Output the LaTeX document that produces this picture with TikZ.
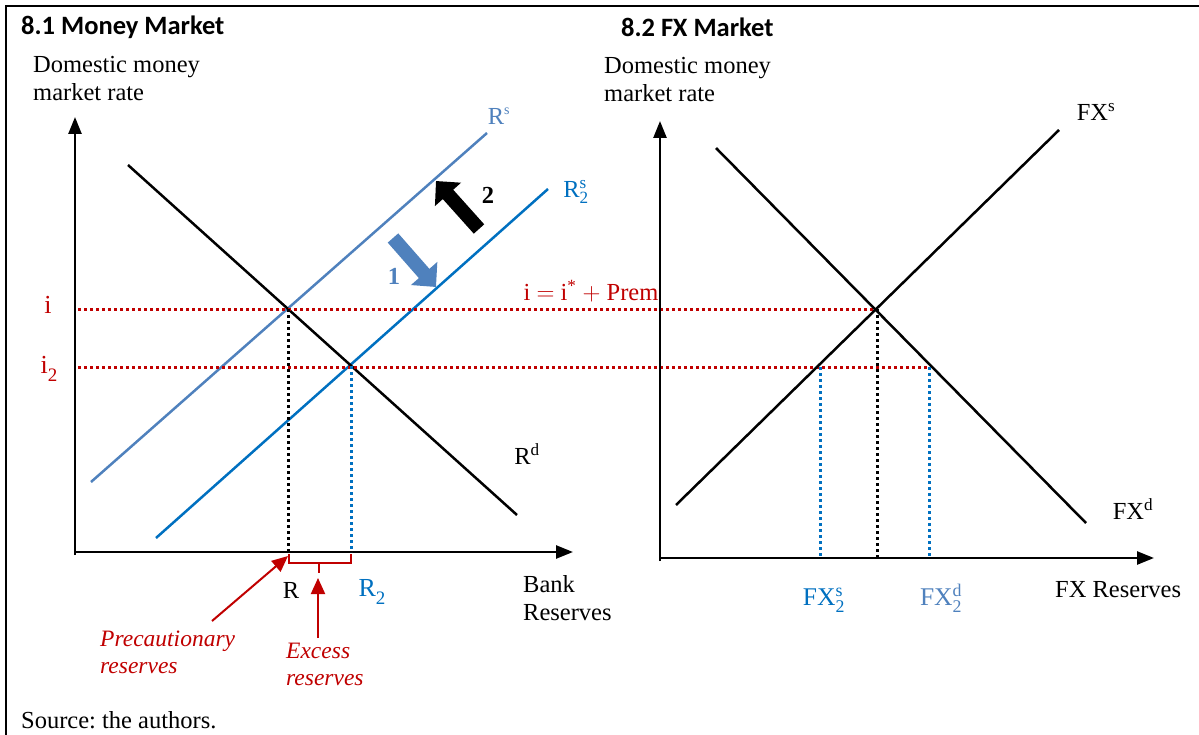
\documentclass[tikz,border=0pt]{standalone}
\usepackage{amsmath}
\usepackage{fontspec}
\setmainfont{Liberation Serif}
\newfontfamily\titlefont{Carlito}
\usetikzlibrary{arrows.meta}
\frenchspacing
\definecolor{lblue}{HTML}{4F81BD}
\definecolor{dblue}{HTML}{0070C0}
\definecolor{dred}{HTML}{C00000}
\newcommand{\supsubx}[2]{$^{\text{#1}}_{\text{#2}}$}
\newcommand{\bigsub}[1]{\raisebox{-0.28em}{\fontsize{19}{20}\selectfont #1}}
\tikzset{
  txt/.style={font=\fontsize{24.5}{28}\selectfont, inner sep=0pt},
  ttl/.style={font=\titlefont\bfseries\fontsize{26.5}{30}\selectfont, inner sep=0pt, anchor=west},
  axis/.style={line width=2.5pt, -{Triangle[length=17pt,width=13pt]}},
  curve/.style={line width=2.5pt},
  dots/.style={line width=3pt, dash pattern=on 3pt off 3pt},
  blockarrow/.style={line width=14pt, -{Triangle[length=18pt,width=34pt]}},
  redarrow/.style={dred, line width=2pt, -{Triangle[length=16pt,width=14pt]}},
}
\begin{document}
\begin{tikzpicture}[x=1pt,y=-1pt]
\useasboundingbox (0,0) rectangle (1199,735);
% frame
\draw[line width=2.8pt] (6,735) -- (6,6) -- (1199,6);
% titles
\node[ttl] (t1) at (21,27) {8.1 Money Market};
\node[ttl] (t2) at (621,27) {8.2 FX Market};
% ---------- left panel ----------
\node[txt, anchor=north west, align=left] (yl1) at (33,56) {Domestic money\\market rate};
\coordinate (O1) at (75,552);
\coordinate (Y1) at (75,117);
\coordinate (X1) at (573,552);
\draw[axis] (75,555) -- (Y1);
\draw[axis] (O1) -- (X1);
\node[txt, anchor=north west, align=left] (xl1) at (523,575) {Bank\\Reserves};
% curves
\coordinate (rsA) at (91,482);  \coordinate (rsB) at (487,133);
\coordinate (rs2A) at (156,538); \coordinate (rs2B) at (548,189);
\coordinate (rdA) at (128,165); \coordinate (rdB) at (517,515);
\draw[curve, lblue] (rsA) -- (rsB);
\draw[curve, dblue] (rs2A) -- (rs2B);
\draw[curve] (rdA) -- (rdB);
\node[txt, lblue] (lrs) at (499,116) {R\textsuperscript{\fontsize{14}{14}\selectfont s}};
\node[txt, dblue] (lrs2) at (576,192) {R\supsubx{s}{2}};
\node[txt] (lrd) at (527,454) {R\textsuperscript{d}};
% equilibrium points
\coordinate (E1) at (288,309);
\coordinate (E2) at (351,366);
\coordinate (E3) at (877,309);
\coordinate (F1) at (820,367);
\coordinate (F2) at (929,367);
% red dotted rate lines
\coordinate (iL) at (78,309);
\coordinate (i2L) at (78,367);
\draw[dots, dred] (iL) -- (E3);
\draw[dots, dred] (i2L) -- (F2);
\node[txt, dred, font=\fontsize{26}{28}\selectfont] (li) at (48,305) {i};
\node[txt, dred, font=\fontsize{26}{28}\selectfont] (li2) at (49,369) {i\bigsub{2}};
\node[txt, dred] (leq) at (591,291) {i $=$ i\textsuperscript{*} $+$ Prem};
% vertical dotted
\coordinate (R1) at (288,552);
\coordinate (R2) at (351,552);
\draw[dots] (E1) -- (R1);
\draw[dots, dblue] (E2) -- (R2);
\node[txt] (lR) at (291,590) {R};
\node[txt, dblue, font=\fontsize{26}{28}\selectfont] (lR2) at (372,592) {R\bigsub{2}};
% shift arrows
\coordinate (a1s) at (393,238); \coordinate (a1e) at (436,287);
\draw[blockarrow, lblue] (a1s) -- (a1e);
\node[txt, lblue, font=\bfseries\fontsize{24.5}{28}\selectfont] (l1) at (394,276) {1};
\coordinate (a2s) at (479,229); \coordinate (a2e) at (436,181);
\draw[blockarrow] (a2s) -- (a2e);
\node[txt, font=\bfseries\fontsize{24.5}{28}\selectfont] (l2) at (488,195) {2};
% brace and red annotations
\draw[dred, line width=2pt] (289,554) -- (289,563) -- (351,563) -- (351,554);
\coordinate (brc) at (319,563);
\coordinate (brd) at (319,573);
\draw[dred, line width=2pt] (brc) -- (brd);
\coordinate (exT) at (318,638);
\coordinate (exH) at (318,578);
\draw[redarrow] (exT) -- (exH);
\node[txt, dred, font=\itshape\fontsize{23.5}{27}\selectfont, align=left, anchor=north west] (lex) at (286,643) {Excess\\reserves};
\coordinate (prT) at (212,621);
\coordinate (prH) at (288,556);
\draw[redarrow] (prT) -- (prH);
\node[txt, dred, font=\itshape\fontsize{23.5}{27}\selectfont, align=left, anchor=north west] (lpr) at (100,631) {Precautionary\\reserves};
% ---------- right panel ----------
\node[txt, anchor=north west, align=left] (yl2) at (604,57) {Domestic money\\market rate};
\coordinate (O2) at (660,558);
\coordinate (Y2) at (660,121);
\coordinate (X2) at (1154,558);
\draw[axis] (660,561) -- (Y2);
\draw[axis] (O2) -- (X2);
\node[txt, anchor=west] (xl2) at (1055,590) {FX Reserves};
\coordinate (fsA) at (676,505); \coordinate (fsB) at (1059,130);
\coordinate (fdA) at (716,148); \coordinate (fdB) at (1086,523);
\draw[curve] (fsA) -- (fsB);
\draw[curve] (fdA) -- (fdB);
\node[txt] (lfs) at (1096,112) {FX\textsuperscript{s}};
\node[txt] (lfd) at (1133,509) {FX\textsuperscript{d}};
\coordinate (G0) at (877,558);
\coordinate (G1) at (820,558);
\coordinate (G2) at (929,558);
\draw[dots] (E3) -- (G0);
\draw[dots, dblue] (F1) -- (G1);
\draw[dots, dblue] (F2) -- (G2);
\node[txt, dblue, font=\fontsize{25.5}{28}\selectfont] (lfs2) at (824,600) {FX\supsubx{s}{2}};
\node[txt, lblue, font=\fontsize{25.5}{28}\selectfont] (lfd2) at (941,598) {FX\supsubx{d}{2}};
% source
\node[txt, anchor=west] (src) at (21,720) {Source: the authors.};
\end{tikzpicture}
\end{document}
